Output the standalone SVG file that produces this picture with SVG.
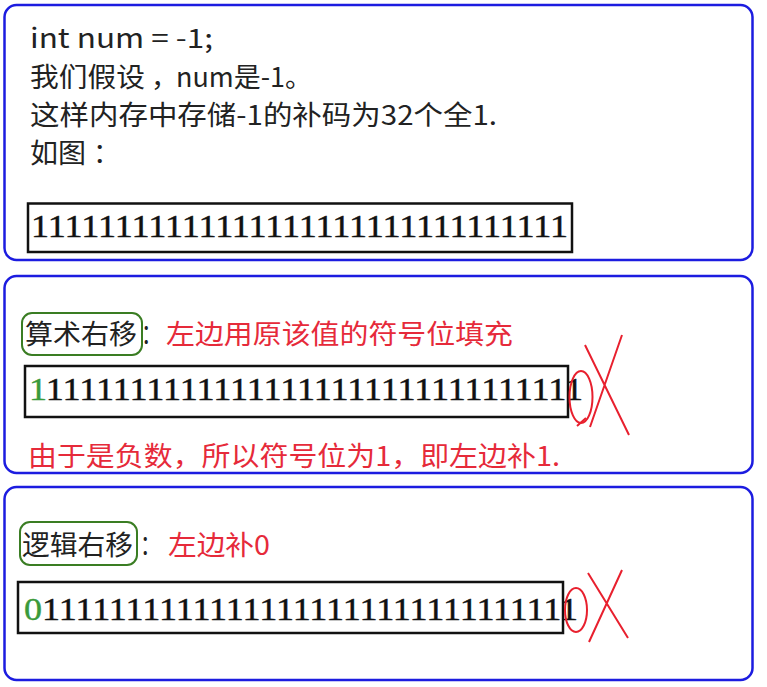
<svg xmlns="http://www.w3.org/2000/svg" width="767" height="687" viewBox="0 0 767 687">
<style>
.panel{fill:#ffffff;stroke:#1c1ce0;stroke-width:2.5}
.tag{fill:none;stroke:#3a7d23;stroke-width:2}
.bin{fill:none;stroke:#111;stroke-width:2.5}
.t{font-family:"Noto Sans CJK SC","Microsoft YaHei",sans-serif;font-size:27px;fill:#222}
.r{font-family:"Noto Sans CJK SC","Microsoft YaHei",sans-serif;font-size:27px;fill:#e62a3a}
.d{font-family:"Liberation Serif","DejaVu Serif",serif;font-size:32px;fill:#111;stroke:#111;stroke-width:0.4}
.g{fill:#3a9a3a;stroke:#3a9a3a}
.mark{fill:none;stroke:#e8202e;stroke-width:2}
</style>
<rect width="767" height="687" fill="#ffffff"/>
<g id="panel1">
<rect class="panel" x="4.5" y="5" width="748" height="255" rx="12"/>
<text class="t" x="30" y="48" textLength="183" lengthAdjust="spacingAndGlyphs">int num = -1;</text>
<text class="t" y="87"><tspan x="30" textLength="115" lengthAdjust="spacingAndGlyphs">我们假设</tspan><tspan x="151">，</tspan><tspan x="176" textLength="136" lengthAdjust="spacingAndGlyphs">num是-1。</tspan></text>
<text class="t" x="30" y="125" textLength="467" lengthAdjust="spacingAndGlyphs">这样内存中存储-1的补码为32个全1.</text>
<text class="t" y="163"><tspan x="30" textLength="56" lengthAdjust="spacingAndGlyphs">如图</tspan><tspan x="93">：</tspan></text>
<rect class="bin" x="28" y="203.5" width="544" height="48.5"/>
<text class="d" x="31" y="237" textLength="537" lengthAdjust="spacingAndGlyphs">11111111111111111111111111111111</text>
</g>
<g id="panel2">
<rect class="panel" x="4.5" y="276" width="748" height="197" rx="12"/>
<rect class="tag" x="22" y="313" width="120" height="42" rx="10"/>
<text class="t" y="344"><tspan x="25" textLength="112" lengthAdjust="spacingAndGlyphs">算术右移</tspan><tspan x="141" textLength="21" lengthAdjust="spacingAndGlyphs">：</tspan></text>
<text class="r" x="166" y="344" textLength="347" lengthAdjust="spacingAndGlyphs">左边用原该值的符号位填充</text>
<rect class="bin" x="25" y="366" width="543" height="51"/>
<text class="d" x="29" y="400" textLength="554" lengthAdjust="spacingAndGlyphs"><tspan class="g">1</tspan>11111111111111111111111111111111</text>
<text class="r" x="28" y="466" textLength="532" lengthAdjust="spacingAndGlyphs">由于是负数，所以符号位为1，即左边补1.</text>
</g>
<g id="panel3">
<rect class="panel" x="4.5" y="487" width="748" height="193" rx="12"/>
<rect class="tag" x="20" y="522" width="117" height="43" rx="10"/>
<text class="t" y="555"><tspan x="22" textLength="111" lengthAdjust="spacingAndGlyphs">逻辑右移</tspan><tspan x="140" textLength="21" lengthAdjust="spacingAndGlyphs">：</tspan></text>
<text class="r" x="168" y="555" textLength="102" lengthAdjust="spacingAndGlyphs">左边补0</text>
<rect class="bin" x="18" y="582" width="545" height="51"/>
<text class="d" x="24" y="620" textLength="554" lengthAdjust="spacingAndGlyphs"><tspan class="g">0</tspan>11111111111111111111111111111111</text>
</g>
<g id="connectors">
<ellipse class="mark" cx="581" cy="397" rx="11.5" ry="26"/>
<path class="mark" d="M585 345 L629 435 M622 335 L590 427 M586 418 L577 426"/>
<ellipse class="mark" cx="576" cy="610" rx="11" ry="22"/>
<path class="mark" d="M588 573 L628 638 M622 570 L589 642"/>
</g>
</svg>
